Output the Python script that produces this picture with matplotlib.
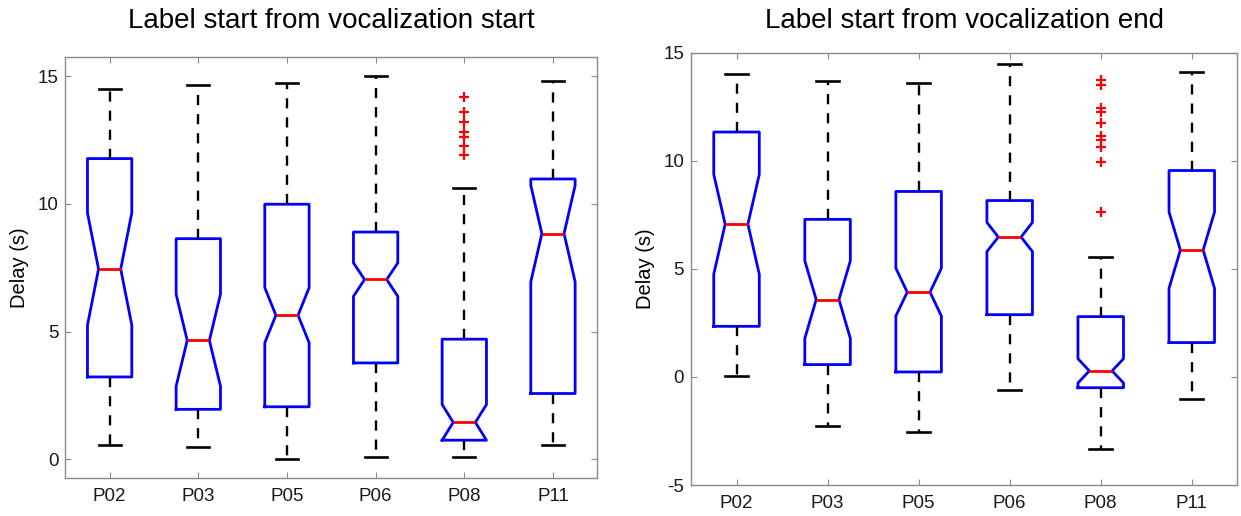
import matplotlib
matplotlib.use("Agg")
import matplotlib.pyplot as plt

plt.rcParams['font.family'] = ['Liberation Sans', 'DejaVu Sans']

labels = ['P02', 'P03', 'P05', 'P06', 'P08', 'P11']

# Panel 1: label start from vocalization start
start_whislo = [0.57, 0.46, 0.00, 0.09, 0.07, 0.57]
start_q1 = [3.22, 1.95, 2.05, 3.77, 0.74, 2.57]
start_cilo = [5.25, 2.86, 4.56, 6.38, 0.74, 6.95]
start_med = [7.45, 4.65, 5.64, 7.04, 1.44, 8.84]
start_cihi = [9.65, 6.46, 6.72, 7.69, 2.14, 10.73]
start_q3 = [11.78, 8.64, 9.99, 8.90, 4.70, 10.98]
start_whishi = [14.52, 14.65, 14.75, 15.00, 10.63, 14.84]
start_fliers = [[], [], [], [], [14.19, 13.60, 13.21, 12.82, 12.62, 12.26, 11.91], []]

# Panel 2: label start from vocalization end
end_whislo = [0.03, -2.29, -2.55, -0.62, -3.33, -1.00]
end_q1 = [2.34, 0.57, 0.23, 2.88, -0.50, 1.59]
end_cilo = [4.75, 1.78, 2.82, 5.80, -0.28, 4.10]
end_med = [7.07, 3.58, 3.92, 6.47, 0.28, 5.87]
end_cihi = [9.37, 5.37, 5.03, 7.15, 0.84, 7.63]
end_q3 = [11.33, 7.29, 8.58, 8.16, 2.79, 9.55]
end_whishi = [14.01, 13.67, 13.62, 14.47, 5.53, 14.13]
end_fliers = [[], [], [], [], [13.72, 13.52, 12.45, 12.24, 11.76, 11.13, 10.98, 10.64, 9.96, 7.63], []]

titles = ['Label start from vocalization start', 'Label start from vocalization end']
ylabel = 'Delay (s)'


def make_stats(wlo, q1, cilo, med, cihi, q3, whi, fl):
    out = []
    for i in range(len(labels)):
        out.append(dict(label=labels[i], whislo=wlo[i], q1=q1[i], cilo=cilo[i], med=med[i],
                        cihi=cihi[i], q3=q3[i], whishi=whi[i], fliers=fl[i]))
    return out


stats_sets = [
    make_stats(start_whislo, start_q1, start_cilo, start_med, start_cihi, start_q3, start_whishi, start_fliers),
    make_stats(end_whislo, end_q1, end_cilo, end_med, end_cihi, end_q3, end_whishi, end_fliers),
]

W, H = 1241, 516
fig = plt.figure(figsize=(W / 100, H / 100), dpi=100)

axes_px = [(65.3, 57.3, 597.3, 477.7), (691.0, 52.7, 1237.3, 485.0)]
ylims = [(-0.73, 15.75), (-5, 15)]
yticks = [[0, 5, 10, 15], [-5, 0, 5, 10, 15]]
ylabel_x = [20, 645.5]
spine_c = '#8a8a8a'
text_c = '#1a1a1a'

for k in range(2):
    l, t, r, b = axes_px[k]
    ax = fig.add_axes([l / W, 1 - b / H, (r - l) / W, (b - t) / H])
    ax.bxp(stats_sets[k], positions=range(1, 7), widths=0.5, shownotches=True,
           boxprops=dict(color='#0000ff', linewidth=2.0),
           medianprops=dict(color='#ff0000', linewidth=2.0),
           whiskerprops=dict(color='black', linewidth=1.7, linestyle=(0, (4.3, 3.8))),
           capprops=dict(color='black', linewidth=1.9),
           flierprops=dict(marker='+', markeredgecolor='red', markersize=7, markeredgewidth=1.6,
                           linestyle='none'))
    ax.set_xlim(0.5, 6.5)
    ax.set_ylim(*ylims[k])
    ax.set_yticks(yticks[k])
    ax.set_yticklabels([str(v) for v in yticks[k]])
    ax.set_xticks(range(1, 7))
    ax.set_xticklabels(labels)
    ax.tick_params(direction='in', length=4.5, width=0.8, color=spine_c, labelsize=13.5,
                   labelcolor=text_c, top=True, right=True)
    ax.tick_params(axis='x', pad=7.5)
    ax.tick_params(axis='y', pad=5)
    for s in ax.spines.values():
        s.set_color(spine_c)
        s.set_linewidth(1.0)
    ax.set_facecolor('white')
    fig.text(((l + r) / 2) / W, 1 - 28.3 / H, titles[k], ha='center', va='baseline',
             fontsize=20, color='black')
    fig.text(ylabel_x[k] / W, 1 - ((t + b) / 2) / H, ylabel, rotation=90, ha='center',
             va='center', fontsize=14.5, color='black')

fig.savefig('out.png', dpi=100)
